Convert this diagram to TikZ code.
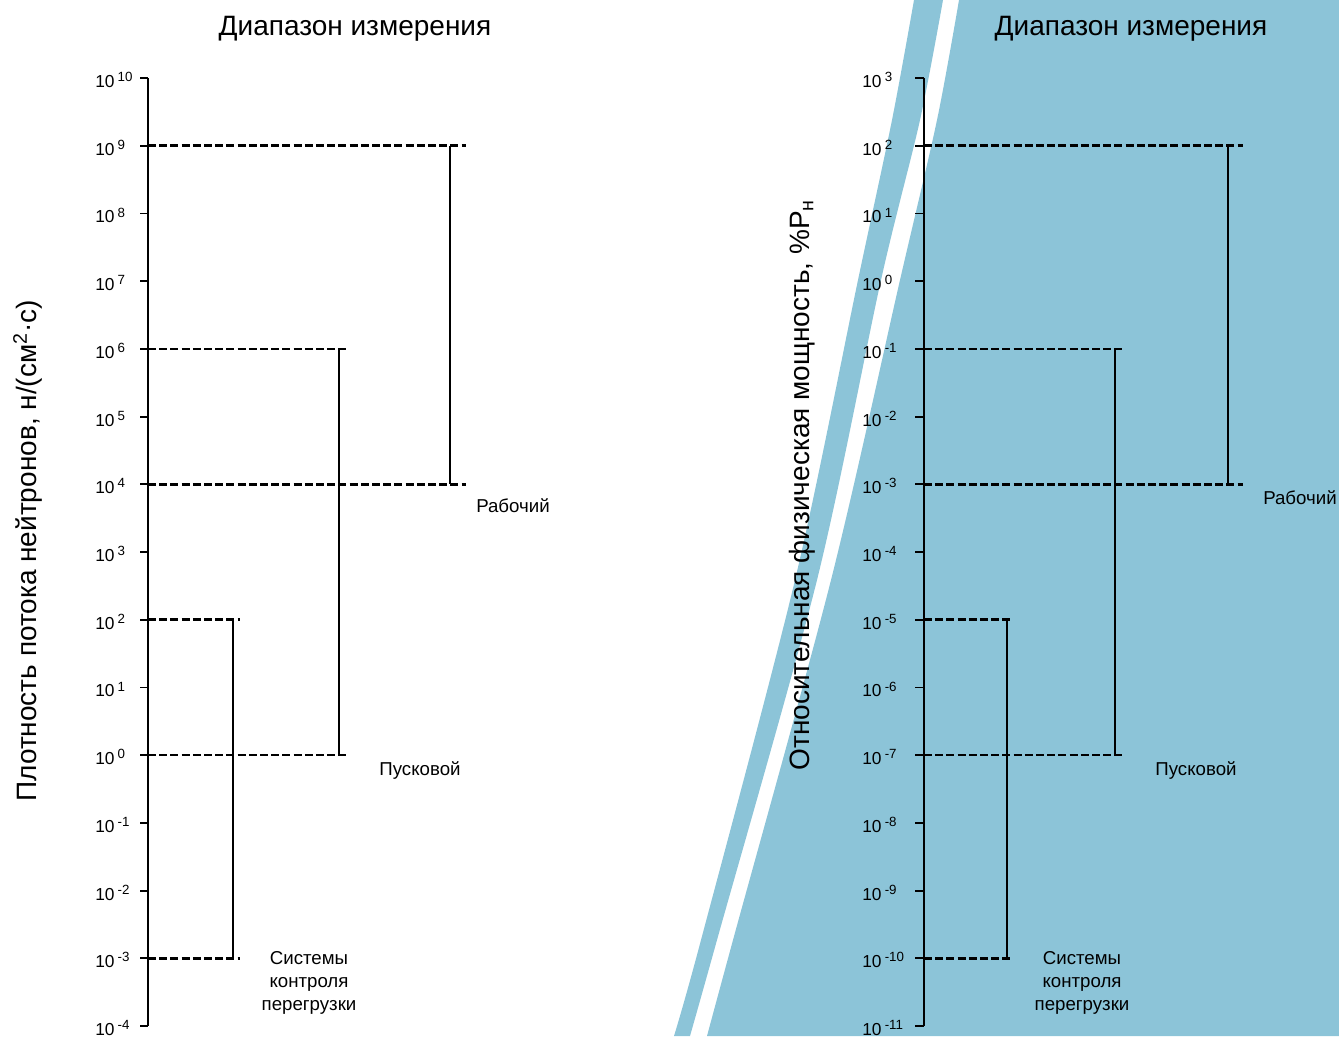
\documentclass[tikz,border=0pt]{standalone}
\usepackage{fontspec}
\setmainfont{Liberation Sans}
\definecolor{bandblue}{RGB}{140,196,216}
\newcommand{\decpow}[1]{10\hspace{2.4pt}\raisebox{4.4pt}{\fontsize{10}{10}\selectfont #1}}
\tikzset{
  axisline/.style={line width=1.4pt},
  rangeline/.style={line width=1pt},
  levelline/.style={line width=1.9pt, dash pattern=on 6pt off 2.4pt},
  ticklabel/.style={anchor=base west, font=\fontsize{13}{14}\selectfont, inner sep=0pt},
  rangelabel/.style={font=\fontsize{14}{17}\selectfont, align=center, inner sep=0pt},
  titlelabel/.style={font=\fontsize{21}{24}\selectfont, inner sep=0pt},
  axislabel/.style={font=\fontsize{21}{24}\selectfont, inner sep=0pt, rotate=90}
}
\begin{document}
\begin{tikzpicture}[x=0.75pt, y=-0.75pt]
\useasboundingbox (0,0) rectangle (1339,1036);

% diagonal blue bands on the right half
\fill[bandblue] plot[smooth] coordinates {(914,0) (892,120) (858,280) (795,580) (701,940) (674,1036)}
  -- plot[smooth] coordinates {(690,1036) (717,940) (817,580) (881,280) (920,120) (943,0)} -- cycle;
\fill[bandblue] plot[smooth] coordinates {(959,0) (937,120) (900,280) (831,580) (733,940) (707,1036)}
  -- (1339,1036) -- (1339,0) -- cycle;

% ---------- left scale: neutron flux density ----------
\def\dec{67.714}
\coordinate (Ltop) at (148,78);
\coordinate (Lbot) at (148,1026);
\draw[axisline] (Ltop) -- (Lbot);
\foreach \e [count=\i from 0] in {10,9,8,7,6,5,4,3,2,1,0,-1,-2,-3,-4} {
  \coordinate (Lt\i) at (148,{78+\i*\dec});
  \coordinate (Ltk\i) at (140,{78+\i*\dec});
  \draw[axisline] (Ltk\i) -- (Lt\i);
  \node[ticklabel] (Lnum\i) at (95,{78+\i*\dec+9.5}) {\decpow{\e}};
}
% ends of the level lines and the range bars
\coordinate (La1) at (466,{78+1*\dec});
\coordinate (La2) at (466,{78+6*\dec});
\coordinate (Lva1) at (450,{78+1*\dec});
\coordinate (Lva2) at (450,{78+6*\dec});
\coordinate (Lb1) at (348,{78+4*\dec});
\coordinate (Lb2) at (348,{78+10*\dec});
\coordinate (Lvb1) at (339,{78+4*\dec});
\coordinate (Lvb2) at (339,{78+10*\dec});
\coordinate (Lc1) at (240,{78+8*\dec});
\coordinate (Lc2) at (240,{78+13*\dec});
\coordinate (Lvc1) at (233,{78+8*\dec});
\coordinate (Lvc2) at (233,{78+13*\dec});
\draw[levelline] (Lt1) -- (La1);
\draw[levelline] (Lt6) -- (La2);
\draw[rangeline] (Lva1) -- (Lva2);
\draw[levelline] (Lt4) -- (Lb1);
\draw[levelline] (Lt10) -- (Lb2);
\draw[rangeline] (Lvb1) -- (Lvb2);
\draw[levelline] (Lt8) -- (Lc1);
\draw[levelline] (Lt13) -- (Lc2);
\draw[rangeline] (Lvc1) -- (Lvc2);

\node[rangelabel] (Lwork) at (513,506) {Рабочий};
\node[rangelabel] (Lstart) at (420,770) {Пусковой};
\node[rangelabel] (Lload) at (309,983) {Системы\\контроля\\перегрузки};

\node[titlelabel] (Ltitle) at (355,29) {Диапазон измерения};
\node[axislabel] (Lyl) at (28,551) {Плотность потока нейтронов, н/(см\textsuperscript{2}·с)};

% ---------- right scale: relative power ----------
\coordinate (Rtop) at (924,78);
\coordinate (Rbot) at (924,1026);
\draw[axisline] (Rtop) -- (Rbot);
\foreach \e [count=\i from 0] in {3,2,1,0,-1,-2,-3,-4,-5,-6,-7,-8,-9,-10,-11} {
  \coordinate (Rt\i) at (924,{78+\i*\dec});
  \coordinate (Rtk\i) at (915,{78+\i*\dec});
  \draw[axisline] (Rtk\i) -- (Rt\i);
  \node[ticklabel] (Rnum\i) at (862,{78+\i*\dec+9.5}) {\decpow{\e}};
}
\coordinate (Ra1) at (1243,{78+1*\dec});
\coordinate (Ra2) at (1243,{78+6*\dec});
\coordinate (Rva1) at (1228,{78+1*\dec});
\coordinate (Rva2) at (1228,{78+6*\dec});
\coordinate (Rb1) at (1125,{78+4*\dec});
\coordinate (Rb2) at (1125,{78+10*\dec});
\coordinate (Rvb1) at (1115,{78+4*\dec});
\coordinate (Rvb2) at (1115,{78+10*\dec});
\coordinate (Rc1) at (1013,{78+8*\dec});
\coordinate (Rc2) at (1013,{78+13*\dec});
\coordinate (Rvc1) at (1007,{78+8*\dec});
\coordinate (Rvc2) at (1007,{78+13*\dec});
\draw[levelline] (Rt1) -- (Ra1);
\draw[levelline] (Rt6) -- (Ra2);
\draw[rangeline] (Rva1) -- (Rva2);
\draw[levelline] (Rt4) -- (Rb1);
\draw[levelline] (Rt10) -- (Rb2);
\draw[rangeline] (Rvb1) -- (Rvb2);
\draw[levelline] (Rt8) -- (Rc1);
\draw[levelline] (Rt13) -- (Rc2);
\draw[rangeline] (Rvc1) -- (Rvc2);

\node[rangelabel] (Rwork) at (1300,498) {Рабочий};
\node[rangelabel] (Rstart) at (1196,770) {Пусковой};
\node[rangelabel] (Rload) at (1082,983) {Системы\\контроля\\перегрузки};

\node[titlelabel] (Rtitle) at (1131,29) {Диапазон измерения};
\node[axislabel] (Ryl) at (802,485) {Относительная физическая мощность, \%P\textsubscript{н}};
\end{tikzpicture}
\end{document}
